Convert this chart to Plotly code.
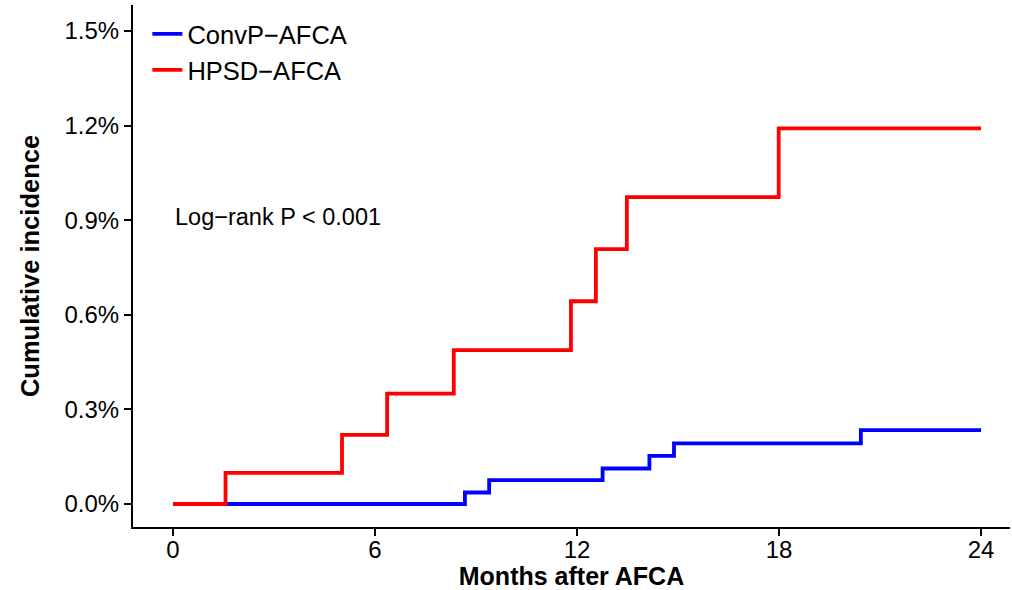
import plotly.graph_objects as go

# Data (months, cumulative incidence as fraction)
convp_months = [0, 8.67, 9.39, 12.76, 14.15, 14.88, 20.43, 24]
convp_incidence = [0.0, 0.000365, 0.000755, 0.001126, 0.001525, 0.00192, 0.00234, 0.00234]

hpsd_months = [0, 1.56, 5.02, 6.36, 8.34, 11.82, 12.56, 13.48, 17.99, 24]
hpsd_incidence = [0.0, 0.000986, 0.00219, 0.0035, 0.00488, 0.00643, 0.00808, 0.00973, 0.01191, 0.01191]

x_ticks = [0, 6, 12, 18, 24]
y_ticks = [0.0, 0.003, 0.006, 0.009, 0.012, 0.015]

FONT = "Liberation Sans, Arial, sans-serif"

fig = go.Figure()
fig.add_trace(go.Scatter(x=convp_months, y=convp_incidence, mode="lines",
                         line=dict(color="#0000FF", width=3.8, shape="hv"),
                         name="ConvP\u2212AFCA"))
fig.add_trace(go.Scatter(x=hpsd_months, y=hpsd_incidence, mode="lines",
                         line=dict(color="#FF0000", width=3.8, shape="hv"),
                         name="HPSD\u2212AFCA"))

fig.add_annotation(x=0, y=0.0091, xref="x", yref="y", text="Log\u2212rank P < 0.001",
                   showarrow=False, xanchor="left", yanchor="middle",
                   font=dict(family=FONT, size=23.5, color="black"))

fig.update_layout(
    width=1012, height=590,
    margin=dict(l=133, r=2, t=5, b=63),
    paper_bgcolor="white", plot_bgcolor="white",
    font=dict(family=FONT, color="black"),
    showlegend=True,
    legend=dict(x=0.0164, y=0.989, xanchor="left", yanchor="top",
                bgcolor="rgba(0,0,0,0)", font=dict(family=FONT, size=25.5, color="black"),
                tracegroupgap=0, itemwidth=30),
    xaxis=dict(range=[-1.188, 24.86], tickvals=x_ticks, ticktext=[str(v) for v in x_ticks],
               showgrid=False, zeroline=False, showline=True, linecolor="black", linewidth=2,
               ticks="outside", ticklen=7, tickwidth=1.5, tickcolor="black",
               ticklabelstandoff=-7,
               tickfont=dict(family=FONT, size=24, color="black"),
               title=dict(text="<b>Months after AFCA</b>", font=dict(family=FONT, size=25, color="black"),
                          standoff=7)),
    yaxis=dict(range=[-0.000729, 0.015825], tickvals=y_ticks, tickformat=".1%",
               showgrid=False, zeroline=False, showline=True, linecolor="black", linewidth=2,
               ticks="outside", ticklen=7, tickwidth=1.5, tickcolor="black",
               tickfont=dict(family=FONT, size=24, color="black"),
               title=dict(text="<b>Cumulative incidence</b>", font=dict(family=FONT, size=25.5, color="black"),
                          standoff=18)),
)

fig.write_html("out.html", config={"displayModeBar": False},
               post_script="document.body.style.margin='0';")
